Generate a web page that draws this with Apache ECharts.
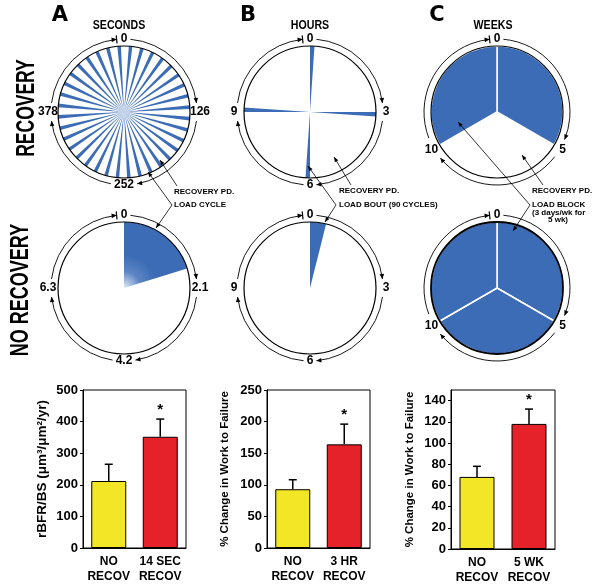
<!DOCTYPE html>
<html>
<head>
<meta charset="utf-8">
<script src="https://cdn.jsdelivr.net/npm/echarts@6/dist/echarts.min.js"></script>
<style>
html, body { margin: 0; padding: 0; background: #fff; }
#chart { width: 600px; height: 587px; }
</style>
</head>
<body>
<div id="chart"></div>
<script>
// ---- data ----
// bar panels
const catsA = ['NO\nRECOV', '14 SEC\nRECOV'];
const catsB = ['NO\nRECOV', '3 HR\nRECOV'];
const catsC = ['NO\nRECOV', '5 WK\nRECOV'];
const meanA = [212, 352];
const errA = [53, 56];
const meanB = [93, 164];
const errB = [15, 32];
const meanC = [68, 118];
const errC = [10, 14];
const sigFlags = [0, 1];

// loading schedules (clock diagrams)
const spokeCountA = 36;          // load cycles per 504 s, recovery
const spokeA = [3.1, 6.9];       // load, rest (per cycle, drawn share)
const noRecovA = [1.7, 6.7];     // load, rest (s)
const boutsB = [0.13, 2.87, 0.13, 2.87, 0.13, 2.87, 0.13, 2.87]; // h
const noRecovB = [0.47, 11.53];  // h
const blocksC = [5, 5, 5];       // load, rest, load (wk)
const noRecovC = [5, 5, 5];      // wk, all loaded

// clock labels
const ringA1 = ['0', '126', '252', '378'];
const ringA2 = ['0', '2.1', '4.2', '6.3'];
const ringB = ['0', '3', '6', '9'];
const ringC = ['0', '5', '10'];

const FONT = "'Liberation Sans', Arial, Helvetica, sans-serif";
const BLUE = '#3b6cb5';
const NONE = 'rgba(0,0,0,0)';
const INNER_R = 66;
const RING_R = 73;

var chart = echarts.init(document.getElementById('chart'));

function item(v, color, border, bw) {
  return { value: v, itemStyle: { color: color, borderColor: border || NONE, borderWidth: bw || 0 } };
}

function pie(center, data, startAngle, z) {
  return {
    type: 'pie', center: center, radius: [0, INNER_R], startAngle: startAngle, clockwise: true,
    silent: true, animation: false, avoidLabelOverlap: false,
    label: { show: false }, labelLine: { show: false }, emphasis: { disabled: true },
    z: z, data: data
  };
}

function outline(center, bw) {
  return pie(center, [{ value: 1, itemStyle: { color: NONE, borderColor: '#000', borderWidth: bw } }], 90, 5);
}

// ---- clock ring: labels, arcs and arrowheads ----
function ring(cx, cy, labels) {
  const r = RING_R, n = labels.length, els = [];
  const rad = d => d * Math.PI / 180;
  const pt = (rr, d) => [cx + rr * Math.sin(rad(d)), cy - rr * Math.cos(rad(d))];
  const textW = s => s.replace(/\./g, '').length * 6.8 + (s.split('.').length - 1) * 3.4;
  const half = (s, d) => Math.abs(Math.cos(rad(d))) * textW(s) / 2 + Math.abs(Math.sin(rad(d))) * 6;

  labels.forEach((lab, k) => {
    const d = k * 360 / n;
    const p = pt(r + 3 * Math.abs(Math.sin(rad(d))), d);
    els.push({ type: 'text', x: p[0], y: p[1], z: 100,
      style: { text: lab, font: 'bold 12px ' + FONT, fill: '#000', align: 'center', verticalAlign: 'middle' } });

    const nextLab = labels[(k + 1) % n];
    const d0 = d + (half(lab, d) + 3) / r * 180 / Math.PI;
    const d1e = (k + 1) * 360 / n;
    const d1 = d1e - (half(nextLab, d1e) + (k === n - 1 ? 4 : 3)) / r * 180 / Math.PI;
    els.push({ type: 'arc', z: 100,
      shape: { cx: cx, cy: cy, r: r, startAngle: rad(d0 - 90), endAngle: rad(d1 - 90), clockwise: true },
      style: { stroke: '#000', fill: 'none', lineWidth: 0.9 } });
    // arrowhead at the end of the arc, pointing clockwise
    const tip = pt(r, d1);
    const t = [Math.cos(rad(d1)), Math.sin(rad(d1))];
    const nn = [Math.sin(rad(d1)), -Math.cos(rad(d1))];
    const b = [tip[0] - 5 * t[0], tip[1] - 5 * t[1]];
    els.push({ type: 'polygon', z: 100,
      shape: { points: [tip, [b[0] + 2.3 * nn[0], b[1] + 2.3 * nn[1]], [b[0] - 2.3 * nn[0], b[1] - 2.3 * nn[1]]] },
      style: { fill: '#000' } });
    if (k === n - 1) {
      const a = pt(r - 4, d1), c = pt(r + 4, d1);
      els.push({ type: 'line', z: 100, shape: { x1: a[0], y1: a[1], x2: c[0], y2: c[1] },
        style: { stroke: '#000', lineWidth: 1.2 } });
    }
  });
  return els;
}

function txt(x, y, s, font, opts) {
  opts = opts || {};
  return { type: 'text', x: x, y: y, z: 100, rotation: opts.rot || 0,
    scaleX: opts.sx || 1, scaleY: 1,
    style: { text: s, font: font, fill: '#000', align: opts.align || 'center', verticalAlign: 'middle' } };
}

function leader(x1, y1, x2, y2) {
  const L = Math.hypot(x2 - x1, y2 - y1), ux = (x2 - x1) / L, uy = (y2 - y1) / L;
  const bx = x2 - 5 * ux, by = y2 - 5 * uy;
  return [
    { type: 'line', z: 100, shape: { x1: x1, y1: y1, x2: x2, y2: y2 }, style: { stroke: '#000', lineWidth: 0.8 } },
    { type: 'polygon', z: 100, shape: { points: [[x2, y2], [bx - 2 * uy, by + 2 * ux], [bx + 2 * uy, by - 2 * ux]] },
      style: { fill: '#000' } }
  ];
}

// ---- pie series for the six clocks ----
const spokeItems = [];
for (let i = 0; i < spokeCountA; i++) {
  spokeItems.push(item(spokeA[0], BLUE), item(spokeA[1], NONE));
}
const spokeHalf = spokeA[0] / (spokeA[0] + spokeA[1]) * 360 / 2;
const fadeA = new echarts.graphic.RadialGradient(124, 288, 66, [
  { offset: 0, color: '#e4ecf7' }, { offset: 0.25, color: '#5d86c5' }, { offset: 0.5, color: BLUE }, { offset: 1, color: BLUE }
], true);

const pies = [
  pie([124, 112], spokeItems, 90 + spokeHalf, 2), outline([124, 112], 1.2),
  pie([124, 288], [item(noRecovA[0], fadeA), item(noRecovA[1], NONE)], 90, 2), outline([124, 288], 1.2),
  pie([310, 112], boutsB.map((v, i) => item(v, i % 2 ? NONE : BLUE)), 90, 2), outline([310, 112], 1.2),
  pie([310, 288], [item(noRecovB[0], BLUE), item(noRecovB[1], NONE)], 90, 2), outline([310, 288], 1.2),
  pie([497, 112], blocksC.map((v, i) => i === 1 ? item(v, NONE) : item(v, BLUE, '#fff', 1.5)), 90, 2), outline([497, 112], 1.2),
  pie([497, 288], noRecovC.map(v => item(v, BLUE, '#fff', 1.5)), 90, 2), outline([497, 288], 1.8)
];

// ---- bar panels ----
const grids = [
  { left: 83, top: 390, width: 103, height: 158 },
  { left: 267, top: 390, width: 103, height: 158 },
  { left: 451, top: 390, width: 104, height: 159 }
];
const yCfg = [
  { max: 500, interval: 100, name: 'rBFR/BS (\u03bcm\u00b3/\u03bcm\u00b2/yr)', gap: 34, size: 13.5 },
  { max: 250, interval: 50, name: '% Change in Work to Failure', gap: 36, size: 11.5 },
  { max: 150, interval: 20, name: '% Change in Work to Failure', gap: 35, size: 11.5 }
];
const barCats = [catsA, catsB, catsC];
const means = [meanA, meanB, meanC];
const errs = [errA, errB, errC];
const barColors = ['#f2e626', '#e52129'];

const xAxes = barCats.map((c, i) => ({
  type: 'category', gridIndex: i, data: c,
  axisLine: { lineStyle: { color: '#000', width: 1 } }, axisTick: { show: false },
  axisLabel: { interval: 0, color: '#000', fontFamily: FONT, fontWeight: 'bold', fontSize: 12, lineHeight: 15, margin: 6 }
}));
const yAxes = yCfg.map((y, i) => ({
  type: 'value', gridIndex: i, min: 0, max: y.max, interval: y.interval,
  name: y.name, nameLocation: 'middle', nameRotate: 90, nameGap: y.gap,
  nameTextStyle: { color: '#000', fontFamily: FONT, fontWeight: 'bold', fontSize: y.size },
  axisLine: { show: true, lineStyle: { color: '#000', width: 1 } },
  axisTick: { show: true, length: 3, lineStyle: { color: '#000' } },
  splitLine: { show: false },
  axisLabel: { color: '#000', fontFamily: FONT, fontWeight: 'bold', fontSize: 13, margin: 5, showMaxLabel: i !== 2 }
}));

const barSeries = [];
means.forEach((m, i) => {
  barSeries.push({
    type: 'bar', xAxisIndex: i, yAxisIndex: i, barWidth: 35, silent: true,
    data: m.map((v, j) => ({ value: v, itemStyle: { color: barColors[j], borderColor: '#000', borderWidth: 1 } })),
    z: 2
  });
  barSeries.push({
    type: 'custom', xAxisIndex: i, yAxisIndex: i, silent: true, z: 3,
    data: m.map((v, j) => [j, v, v + errs[i][j], sigFlags[j]]),
    renderItem: function (params, api) {
      const base = api.coord([api.value(0), api.value(1)]);
      const top = api.coord([api.value(0), api.value(2)]);
      const children = [
        { type: 'line', shape: { x1: base[0], y1: base[1], x2: top[0], y2: top[1] }, style: { stroke: '#000', lineWidth: 1.5 } },
        { type: 'line', shape: { x1: top[0] - 4, y1: top[1], x2: top[0] + 4, y2: top[1] }, style: { stroke: '#000', lineWidth: 1.5 } }
      ];
      if (api.value(3)) {
        children.push({ type: 'text', x: top[0], y: top[1] - 9,
          style: { text: '*', font: 'bold 15px ' + FONT, fill: '#000', align: 'center', verticalAlign: 'middle' } });
      }
      return { type: 'group', children: children };
    }
  });
});

// ---- texts and annotations ----
const ann = 'bold 8px ' + FONT;
const big = "bold 21px 'DejaVu Sans', sans-serif";
let graphics = [
  txt(60, 16, 'A', big),
  txt(248, 16, 'B', big),
  txt(437, 16, 'C', big),
  txt(119, 26, 'SECONDS', 'bold 12.5px ' + FONT, { sx: 0.85 }),
  txt(310, 26, 'HOURS', 'bold 12.5px ' + FONT, { sx: 0.85 }),
  txt(493, 26, 'WEEKS', 'bold 12.5px ' + FONT, { sx: 0.85 }),
  txt(27, 108, 'RECOVERY', 'bold 25px ' + FONT, { rot: Math.PI / 2, sx: 0.7 }),
  txt(21, 290, 'NO RECOVERY', 'bold 25px ' + FONT, { rot: Math.PI / 2, sx: 0.72 }),
  txt(174, 192, 'RECOVERY PD.', ann, { align: 'left' }),
  txt(174, 205, 'LOAD CYCLE', ann, { align: 'left' }),
  txt(339, 191, 'RECOVERY PD.', ann, { align: 'left' }),
  txt(339, 205, 'LOAD BOUT (90 CYCLES)', ann, { align: 'left' }),
  txt(532, 191, 'RECOVERY PD.', ann, { align: 'left' }),
  txt(532, 205, 'LOAD BLOCK', ann, { align: 'left' }),
  txt(532, 213, '(3 days/wk for', ann, { align: 'left' }),
  txt(548, 220, '5 wk)', ann, { align: 'left' })
];
graphics = graphics.concat(
  leader(177, 186, 160, 160),
  leader(172, 205, 148, 172), leader(172, 205, 156, 228),
  leader(351, 185, 334, 157),
  leader(336, 205, 308, 166), leader(336, 205, 325, 222),
  leader(543, 185, 522, 155),
  leader(530, 205, 458, 122), leader(530, 205, 513, 231),
  ring(124, 112, ringA1), ring(124, 288, ringA2),
  ring(310, 112, ringB), ring(310, 288, ringB),
  ring(497, 112, ringC), ring(497, 288, ringC)
);

chart.setOption({
  animation: false,
  backgroundColor: '#fff',
  grid: grids.map(g => Object.assign({ show: true, borderColor: '#000', borderWidth: 1, backgroundColor: NONE }, g)),
  xAxis: xAxes,
  yAxis: yAxes,
  series: pies.concat(barSeries),
  graphic: graphics
});
</script>
</body>
</html>
